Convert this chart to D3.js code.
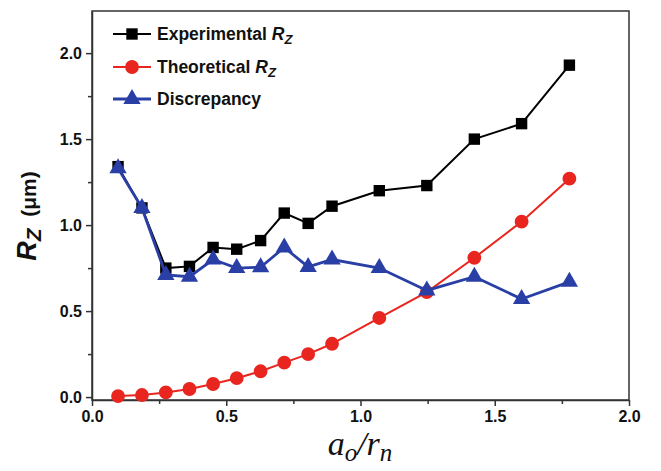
<!DOCTYPE html>
<html>
<head>
<meta charset="utf-8">
<script src="https://cdn.jsdelivr.net/npm/d3@7"></script>
<style>
  body { margin: 0; background: #fff; }
  svg text { font-family: "Liberation Sans", Arial, sans-serif; }
</style>
</head>
<body>
<div id="chart"></div>
<script>
// data
const ratio = [0.097, 0.186, 0.275, 0.363, 0.451, 0.539, 0.628, 0.716, 0.805, 0.894, 1.07, 1.247, 1.424, 1.60, 1.778];
const experimental = [1.34, 1.10, 0.75, 0.76, 0.87, 0.86, 0.91, 1.07, 1.01, 1.11, 1.20, 1.23, 1.50, 1.59, 1.93];
const theoretical = [0.006, 0.012, 0.027, 0.047, 0.076, 0.11, 0.15, 0.20, 0.25, 0.31, 0.46, 0.61, 0.81, 1.02, 1.27];
const discrepancy = [1.33, 1.10, 0.71, 0.70, 0.80, 0.75, 0.755, 0.87, 0.757, 0.80, 0.75, 0.62, 0.70, 0.57, 0.67];
const xTicks = [0, 0.5, 1.0, 1.5, 2.0];
const yTicks = [0, 0.5, 1.0, 1.5, 2.0];

const W = 661, H = 471;
const pLeft = 92, pRight = 629, pTop = 11, pBottom = 400;

const svg = d3.select("#chart").append("svg")
    .attr("width", W)
    .attr("height", H);

const x = d3.scaleLinear().domain([0, 2]).range([pLeft, pRight]);
const y = d3.scaleLinear().domain([-0.017, 2.245]).range([pBottom, pTop]);

// minor ticks
svg.append("g")
    .attr("transform", `translate(0,${pBottom})`)
    .call(d3.axisBottom(x).tickValues([0.25, 0.75, 1.25, 1.75]).tickSize(4).tickFormat(""))
    .call(g => g.select(".domain").remove())
    .selectAll("line").attr("stroke", "#333").attr("stroke-width", 1.5);
svg.append("g")
    .attr("transform", `translate(${pLeft},0)`)
    .call(d3.axisLeft(y).tickValues([0.25, 0.75, 1.25, 1.75]).tickSize(4).tickFormat(""))
    .call(g => g.select(".domain").remove())
    .selectAll("line").attr("stroke", "#333").attr("stroke-width", 1.5);

// major axes
const xAxis = svg.append("g")
    .attr("transform", `translate(0,${pBottom})`)
    .call(d3.axisBottom(x).tickValues(xTicks).tickSize(6).tickSizeOuter(0).tickPadding(5).tickFormat(d3.format(".1f")));
const yAxis = svg.append("g")
    .attr("transform", `translate(${pLeft},0)`)
    .call(d3.axisLeft(y).tickValues(yTicks).tickSize(6).tickSizeOuter(0).tickPadding(4).tickFormat(d3.format(".1f")));

[xAxis, yAxis].forEach(g => {
  g.selectAll("line").attr("stroke", "#333").attr("stroke-width", 1.5);
  g.select(".domain").attr("stroke", "#333").attr("stroke-width", 1.5);
  g.selectAll("text")
    .attr("fill", "#111")
    .style("font-size", "16px")
    .style("font-weight", "bold")
    .style("font-family", "'Liberation Sans', Arial, sans-serif");
});

// frame top and right
svg.append("rect")
    .attr("x", pLeft).attr("y", pTop)
    .attr("width", pRight - pLeft).attr("height", pBottom - pTop)
    .attr("fill", "none").attr("stroke", "#333").attr("stroke-width", 1.5);

const series = [
  {name: "Experimental", vals: experimental, color: "#000000", sym: d3.symbolSquare, size: 130, width: 2},
  {name: "Theoretical", vals: theoretical, color: "#e8261f", sym: d3.symbolCircle, size: 150, width: 2},
  {name: "Discrepancy", vals: discrepancy, color: "#2a3fa6", sym: d3.symbolTriangle, size: 130, width: 2.8}
];

const line = d3.line().x(d => x(d[0])).y(d => y(d[1]));

series.forEach(s => {
  const pts = ratio.map((r, i) => [r, s.vals[i]]);
  svg.append("path")
    .datum(pts)
    .attr("d", line)
    .attr("fill", "none")
    .attr("stroke", s.color)
    .attr("stroke-width", s.width);
  svg.selectAll(".m-" + s.name)
    .data(pts)
    .enter()
    .append("path")
    .attr("class", "m-" + s.name)
    .attr("transform", d => `translate(${x(d[0])},${y(d[1])})`)
    .attr("d", d3.symbol().type(s.sym).size(s.size))
    .attr("fill", s.color);
});

// legend
const legendY = [34, 67, 99];
series.forEach((s, i) => {
  const g = svg.append("g").attr("transform", `translate(113,${legendY[i]})`);
  g.append("line").attr("x1", 0).attr("x2", 38).attr("y1", 0).attr("y2", 0)
    .attr("stroke", s.color).attr("stroke-width", s.width);
  g.append("path").attr("transform", "translate(19,0)")
    .attr("d", d3.symbol().type(s.sym).size(s.size)).attr("fill", s.color);
  const t = g.append("text").attr("x", 44).attr("y", 6)
    .style("font-size", "17.5px").style("font-weight", "bold").attr("fill", "#111");
  if (s.name === "Discrepancy") {
    t.text("Discrepancy");
  } else {
    t.append("tspan").text(s.name + " ");
    t.append("tspan").style("font-style", "italic").text("R");
    t.append("tspan").style("font-style", "italic").style("font-size", "13px").attr("dy", 4).text("Z");
  }
});

// y label
const yl = svg.append("text")
    .attr("transform", "translate(36,216) rotate(-90)")
    .attr("text-anchor", "middle")
    .style("font-weight", "bold").attr("fill", "#111");
yl.append("tspan").style("font-style", "italic").style("font-size", "27px").text("R");
yl.append("tspan").style("font-style", "italic").style("font-size", "21px").attr("dy", 5).text("Z");
yl.append("tspan").style("font-size", "21px").attr("dy", -5).text("\u00a0 (μm)");

// x label
const xl = svg.append("text")
    .attr("x", 360).attr("y", 455)
    .attr("text-anchor", "middle")
    .style("font-family", "'Liberation Serif', 'Times New Roman', serif")
    .style("font-style", "italic")
    .attr("fill", "#111");
xl.append("tspan").style("font-size", "34px").text("a");
xl.append("tspan").style("font-size", "25px").attr("dy", 6).text("o");
xl.append("tspan").style("font-size", "34px").attr("dy", -6).text("/r");
xl.append("tspan").style("font-size", "25px").attr("dy", 6).text("n");
</script>
</body>
</html>
